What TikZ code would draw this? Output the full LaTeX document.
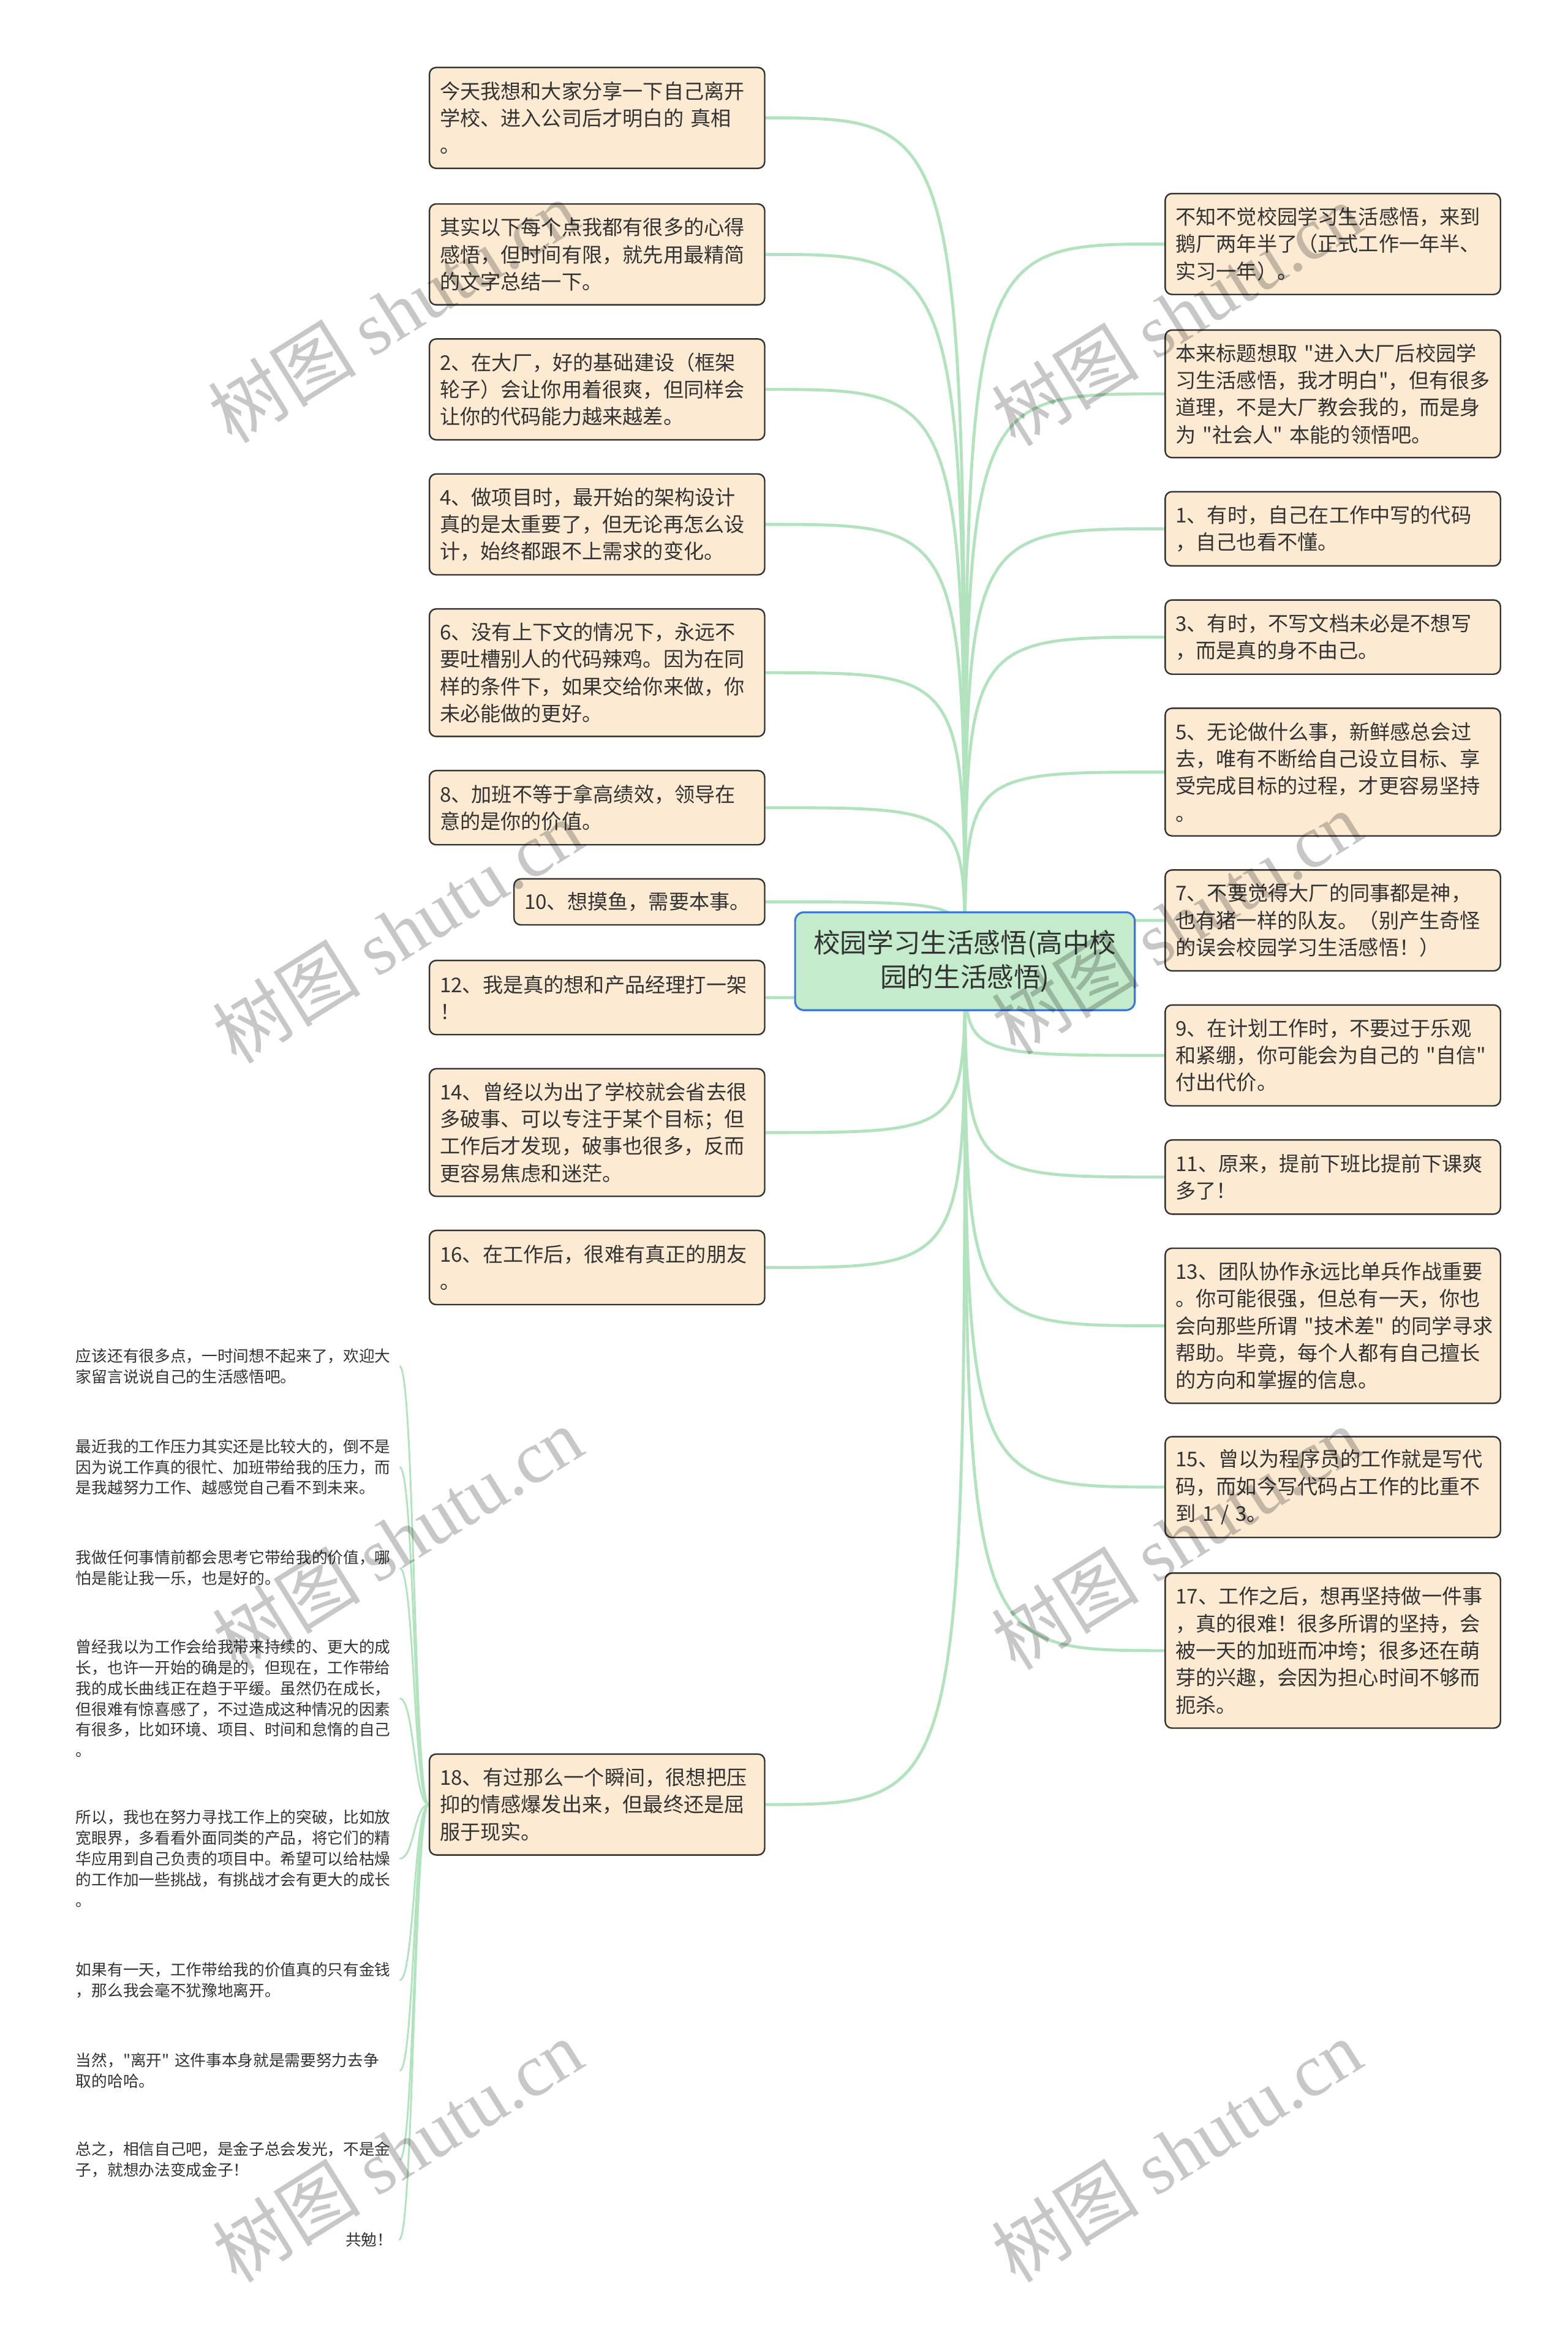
\documentclass[tikz,border=0pt]{standalone}
\usepackage{fontspec}
\setmainfont[Ligatures=TeXOff]{Noto Sans CJK SC}
\newfontfamily\wmlatin{Liberation Serif}
\definecolor{boxfill}{HTML}{FCEAD3}
\definecolor{boxline}{HTML}{333333}
\definecolor{txt}{HTML}{333333}
\definecolor{mainfill}{HTML}{C5EBCD}
\definecolor{mainline}{HTML}{3C78D8}
\definecolor{connc}{HTML}{B3E2BE}
\pgfdeclarelayer{back}
\pgfdeclarelayer{bg}
\pgfdeclarelayer{fg}
\pgfsetlayers{back,bg,main,fg}
\begin{document}
\begin{tikzpicture}[x=1pt,y=-1pt,
  leaf/.style={draw=boxline, fill=boxfill, line width=1pt, rounded corners=4.5pt, text=txt,
    font=\fontsize{13.7}{18.3}\selectfont, text width=212pt, align=left,
    inner xsep=7pt, inner ysep=0pt, anchor=north west},
  freetext/.style={text=txt, font=\fontsize{10.6}{14}\selectfont, text width=214pt,
    align=left, inner sep=0pt, anchor=west},
  conn/.style={draw=connc, line width=2pt},
  sconn/.style={draw=connc, line width=1.2pt},
  wm/.style={font=\fontsize{50}{50}\selectfont, text=black, text opacity=0.22, rotate=32, inner sep=0pt}
]
\useasboundingbox (0,0) rectangle (1057,1567.4);
\begin{pgfonlayer}{back}
\fill[white] (0,0) rectangle (1057,1567.4);
\end{pgfonlayer}

\node[draw=mainline, fill=mainfill, line width=1.3pt, rounded corners=6pt, minimum width=229pt,
  minimum height=66pt, inner sep=0pt, align=center, text=txt, font=\fontsize{18}{23}\selectfont]
  (root) at (650.5,648) {校园学习生活感悟(高中校\\园的生活感悟)};

% left column
\node[leaf, minimum height=68pt] (l1) at (289,45) {今天我想和大家分享一下自己离开\\学校、进入公司后才明白的~真相\\。};
\node[leaf, minimum height=68pt] (l2) at (289,137) {其实以下每个点我都有很多的心得\\感悟，但时间有限，就先用最精简\\的文字总结一下。};
\node[leaf, minimum height=68pt] (l3) at (289,228) {2、在大厂，好的基础建设（框架\\轮子）会让你用着很爽，但同样会\\让你的代码能力越来越差。};
\node[leaf, minimum height=68pt] (l4) at (289,319) {4、做项目时，最开始的架构设计\\真的是太重要了，但无论再怎么设\\计，始终都跟不上需求的变化。};
\node[leaf, minimum height=86pt] (l5) at (289,410) {6、没有上下文的情况下，永远不\\要吐槽别人的代码辣鸡。因为在同\\样的条件下，如果交给你来做，你\\未必能做的更好。};
\node[leaf, minimum height=50pt] (l6) at (289,519) {8、加班不等于拿高绩效，领导在\\意的是你的价值。};
\node[leaf, minimum height=31pt, text width=155pt] (l7) at (346,592) {10、想摸鱼，需要本事。};
\node[leaf, minimum height=50pt] (l8) at (289,647) {12、我是真的想和产品经理打一架\\！};
\node[leaf, minimum height=86pt] (l9) at (289,720) {14、曾经以为出了学校就会省去很\\多破事、可以专注于某个目标；但\\工作后才发现，破事也很多，反而\\更容易焦虑和迷茫。};
\node[leaf, minimum height=50pt] (l10) at (289,829) {16、在工作后，很难有真正的朋友\\。};
\node[leaf, minimum height=68pt] (l11) at (289,1182) {18、有过那么一个瞬间，很想把压\\抑的情感爆发出来，但最终还是屈\\服于现实。};

% right column
\node[leaf, minimum height=68pt] (r1) at (785,130) {不知不觉校园学习生活感悟，来到\\鹅厂两年半了（正式工作一年半、\\实习一年）。};
\node[leaf, minimum height=86pt] (r2) at (785,222) {本来标题想取~"进入大厂后校园学\\习生活感悟，我才明白"，但有很多\\道理，不是大厂教会我的，而是身\\为~"社会人"~本能的领悟吧。};
\node[leaf, minimum height=50pt] (r3) at (785,331) {1、有时，自己在工作中写的代码\\，自己也看不懂。};
\node[leaf, minimum height=50pt] (r4) at (785,404) {3、有时，不写文档未必是不想写\\，而是真的身不由己。};
\node[leaf, minimum height=86pt] (r5) at (785,477) {5、无论做什么事，新鲜感总会过\\去，唯有不断给自己设立目标、享\\受完成目标的过程，才更容易坚持\\。};
\node[leaf, minimum height=68pt] (r6) at (785,586) {7、不要觉得大厂的同事都是神，\\也有猪一样的队友。（别产生奇怪\\的误会校园学习生活感悟！）};
\node[leaf, minimum height=68pt] (r7) at (785,677) {9、在计划工作时，不要过于乐观\\和紧绷，你可能会为自己的~"自信"\\付出代价。};
\node[leaf, minimum height=50pt] (r8) at (785,768) {11、原来，提前下班比提前下课爽\\多了！};
\node[leaf, minimum height=104.5pt] (r9) at (785,841) {13、团队协作永远比单兵作战重要\\。你可能很强，但总有一天，你也\\会向那些所谓~"技术差"~的同学寻求\\帮助。毕竟，每个人都有自己擅长\\的方向和掌握的信息。};
\node[leaf, minimum height=68pt] (r10) at (785,968) {15、曾以为程序员的工作就是写代\\码，而如今写代码占工作的比重不\\到~1~/~3。};
\node[leaf, minimum height=104.5pt] (r11) at (785,1060) {17、工作之后，想再坚持做一件事\\，真的很难！很多所谓的坚持，会\\被一天的加班而冲垮；很多还在萌\\芽的兴趣，会因为担心时间不够而\\扼杀。};

% free text children of node 18
\node[freetext] (sa) at (51,921) {应该还有很多点，一时间想不起来了，欢迎大\\家留言说说自己的生活感悟吧。};
\node[freetext] (sb) at (51,989) {最近我的工作压力其实还是比较大的，倒不是\\因为说工作真的很忙、加班带给我的压力，而\\是我越努力工作、越感觉自己看不到未来。};
\node[freetext] (sc) at (51,1057) {我做任何事情前都会思考它带给我的价值，哪\\怕是能让我一乐，也是好的。};
\node[freetext] (sd) at (51,1145) {曾经我以为工作会给我带来持续的、更大的成\\长，也许一开始的确是的，但现在，工作带给\\我的成长曲线正在趋于平缓。虽然仍在成长，\\但很难有惊喜感了，不过造成这种情况的因素\\有很多，比如环境、项目、时间和怠惰的自己\\。};
\node[freetext] (se) at (51,1253) {所以，我也在努力寻找工作上的突破，比如放\\宽眼界，多看看外面同类的产品，将它们的精\\华应用到自己负责的项目中。希望可以给枯燥\\的工作加一些挑战，有挑战才会有更大的成长\\。};
\node[freetext] (sf) at (51,1335) {如果有一天，工作带给我的价值真的只有金钱\\，那么我会毫不犹豫地离开。};
\node[freetext] (sg) at (51,1396) {当然，"离开"~这件事本身就是需要努力去争\\取的哈哈。};
\node[freetext] (sh) at (51,1456) {总之，相信自己吧，是金子总会发光，不是金\\子，就想办法变成金子！};
\node[text=txt, font=\fontsize{10.6}{14}\selectfont, inner sep=0pt, anchor=east] (si) at (265,1510) {共勉！};

% connectors
\begin{pgfonlayer}{bg}
\foreach \n in {l1,l2,l3,l4,l5,l6,l7,l8,l9,l10,l11}
  \draw[conn] (root.center) .. controls (root.center |- \n.east) .. (\n.east);
\foreach \n in {r1,r2,r3,r4,r5,r6,r7,r8,r9,r10,r11}
  \draw[conn] (root.center) .. controls (root.center |- \n.west) .. (\n.west);
\foreach \n in {sa,sb,sc,sd,se,sf,sg,sh,si}
  \draw[sconn] (l11.west) .. controls ([xshift=-10pt]l11.west) and ([xshift=14pt]\n.east) .. ([xshift=4pt]\n.east);
\end{pgfonlayer}

% watermarks
\begin{pgfonlayer}{fg}
\node[wm] (w1) at (265,210) {树图 {\wmlatin shutu.cn}};
\node[wm] (w2) at (793,212) {树图 {\wmlatin shutu.cn}};
\node[wm] (w3) at (268,628) {树图 {\wmlatin shutu.cn}};
\node[wm] (w4) at (793,622) {树图 {\wmlatin shutu.cn}};
\node[wm] (w5) at (268,1037) {树图 {\wmlatin shutu.cn}};
\node[wm] (w6) at (793,1037) {树图 {\wmlatin shutu.cn}};
\node[wm] (w7) at (268,1450) {树图 {\wmlatin shutu.cn}};
\node[wm] (w8) at (793,1450) {树图 {\wmlatin shutu.cn}};
\end{pgfonlayer}
\end{tikzpicture}
\end{document}
